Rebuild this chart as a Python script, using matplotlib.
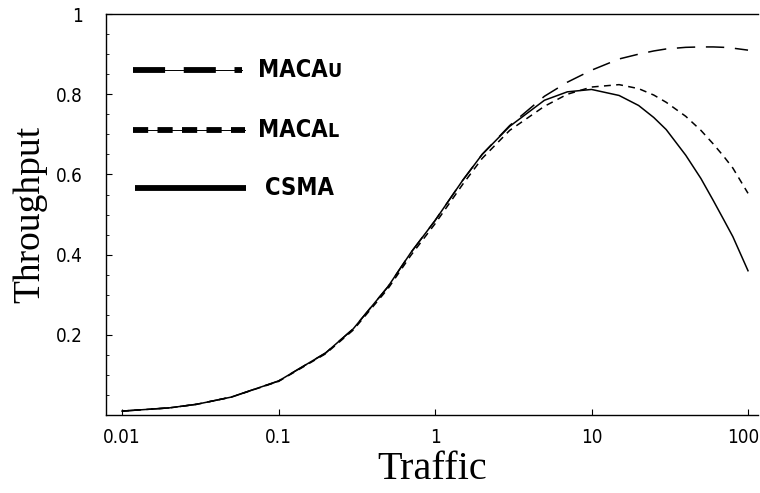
import matplotlib
matplotlib.use("Agg")
import matplotlib.pyplot as plt
from matplotlib import font_manager
from matplotlib.ticker import FixedLocator, MultipleLocator
from matplotlib.offsetbox import TextArea, HPacker, AnchoredOffsetbox
from matplotlib.transforms import ScaledTranslation

# ============================================
# Throughput vs offered traffic
# ============================================
traffic = [0.01, 0.02, 0.03, 0.05, 0.1, 0.2, 0.3, 0.5, 0.7, 1, 1.5, 2, 3,
           5, 7, 10, 15, 20, 25, 30, 40, 50, 60, 70, 80, 100]

csma = [0.010, 0.018, 0.027, 0.045, 0.085, 0.155, 0.215, 0.320, 0.405, 0.485,
        0.585, 0.650, 0.720, 0.785, 0.806, 0.812, 0.797, 0.772, 0.742, 0.712,
        0.648, 0.590, 0.535, 0.487, 0.445, 0.360]

macal = [0.010, 0.018, 0.027, 0.045, 0.084, 0.153, 0.212, 0.315, 0.398, 0.477,
         0.575, 0.640, 0.710, 0.770, 0.800, 0.818, 0.824, 0.814, 0.798, 0.780,
         0.745, 0.710, 0.676, 0.645, 0.616, 0.553]

macau = [0.010, 0.018, 0.027, 0.045, 0.085, 0.155, 0.215, 0.320, 0.405, 0.485,
         0.585, 0.650, 0.722, 0.795, 0.830, 0.860, 0.888, 0.900, 0.908, 0.913,
         0.917, 0.918, 0.918, 0.917, 0.915, 0.910]

x_ticks = [0.01, 0.1, 1, 10, 100]
x_tick_labels = ["0.01", "0.1", "1", "10", "100"]
y_ticks = [0.2, 0.4, 0.6, 0.8, 1.0]
y_tick_labels = ["0.2", "0.4", "0.6", "0.8", "1"]

legend_names = [("MACA", "U"), ("MACA", "L"), ("CSMA", "")]

# condensed sans if the system has it
names = {f.name for f in font_manager.fontManager.ttflist}
cond = [f for f in font_manager.fontManager.ttflist
        if f.name == "DejaVu Sans" and "ondensed" in str(f.stretch) + f.fname]
if "Liberation Sans Narrow" in names:
    narrow, stretch = ["Liberation Sans Narrow", "DejaVu Sans"], "normal"
elif cond:
    narrow, stretch = ["DejaVu Sans"], "condensed"
else:
    narrow, stretch = ["Liberation Sans", "DejaVu Sans"], "normal"
serif = ["Liberation Serif", "DejaVu Serif"]

# ============================================
# Plotting
# ============================================
fig = plt.figure(figsize=(7.6, 4.93), dpi=100)
ax = fig.add_axes([0.1395, 0.158, 0.858, 0.8135])

ax.plot(traffic, macau, color="black", linewidth=1.1, dashes=(12, 7))
ax.plot(traffic, macal, color="black", linewidth=1.1, dashes=(4.5, 3.5))
ax.plot(traffic, csma, color="black", linewidth=1.1)

ax.set_xscale("log")
ax.set_xlim(0.0079, 116)
ax.set_ylim(0, 1)

ax.xaxis.set_major_locator(FixedLocator(x_ticks))
ax.xaxis.set_minor_locator(FixedLocator([]))
ax.set_xticklabels(x_tick_labels)
ax.yaxis.set_major_locator(FixedLocator(y_ticks))
ax.yaxis.set_minor_locator(MultipleLocator(0.05))
ax.set_yticklabels(y_tick_labels)

ax.tick_params(axis="both", which="major", direction="in", length=4, width=0.8,
               labelsize=13.5)
ax.tick_params(axis="x", which="major", pad=9)
ax.tick_params(axis="y", which="major", pad=17)
ax.tick_params(axis="y", which="minor", direction="in", length=2.5, width=0.6)
for lab in ax.get_xticklabels() + ax.get_yticklabels():
    lab.set_family(narrow)
    lab.set_stretch(stretch)

# keep the "100" label inside the picture
last = ax.get_xticklabels()[-1]
last.set_transform(last.get_transform() + ScaledTranslation(-5 / 100, 0, fig.dpi_scale_trans))

ax.spines["right"].set_visible(False)
for s in ["left", "bottom", "top"]:
    ax.spines[s].set_linewidth(1.0)

ax.set_xlabel("Traffic", fontsize=29, family=serif, labelpad=3)
ax.set_ylabel("Throughput", fontsize=27, family=serif, labelpad=6)

# hand-drawn style legend inside the axes
leg_y = [0.86, 0.711, 0.566]
leg_x0 = [0.041, 0.041, 0.045]
leg_x1 = [0.209, 0.213, 0.215]
leg_dash = [(5.5, 3.2), (2.6, 1.6), None]
leg_tx = [0.233, 0.233, 0.244]
for i, (main, sub) in enumerate(legend_names):
    xs = [leg_x0[i], leg_x1[i]]
    ys = [leg_y[i], leg_y[i]]
    if leg_dash[i] is None:
        ax.plot(xs, ys, color="black", linewidth=4.2, transform=ax.transAxes,
                solid_capstyle="butt")
    else:
        ax.plot(xs, ys, color="black", linewidth=0.7, transform=ax.transAxes)
        ax.plot(xs, ys, color="black", linewidth=4.2, dashes=leg_dash[i],
                transform=ax.transAxes, dash_capstyle="butt")
    props = dict(fontweight="bold", family=narrow, stretch=stretch)
    parts = [TextArea(main, textprops=dict(fontsize=17, **props))]
    if sub:
        parts.append(TextArea(sub, textprops=dict(fontsize=14, **props)))
    box = HPacker(children=parts, align="baseline", pad=0, sep=0)
    anc = AnchoredOffsetbox(loc="center left", child=box, pad=0, borderpad=0,
                            frameon=False, bbox_to_anchor=(leg_tx[i], leg_y[i]),
                            bbox_transform=ax.transAxes)
    ax.add_artist(anc)

# Save figure
plt.savefig("out.png", dpi=100)
